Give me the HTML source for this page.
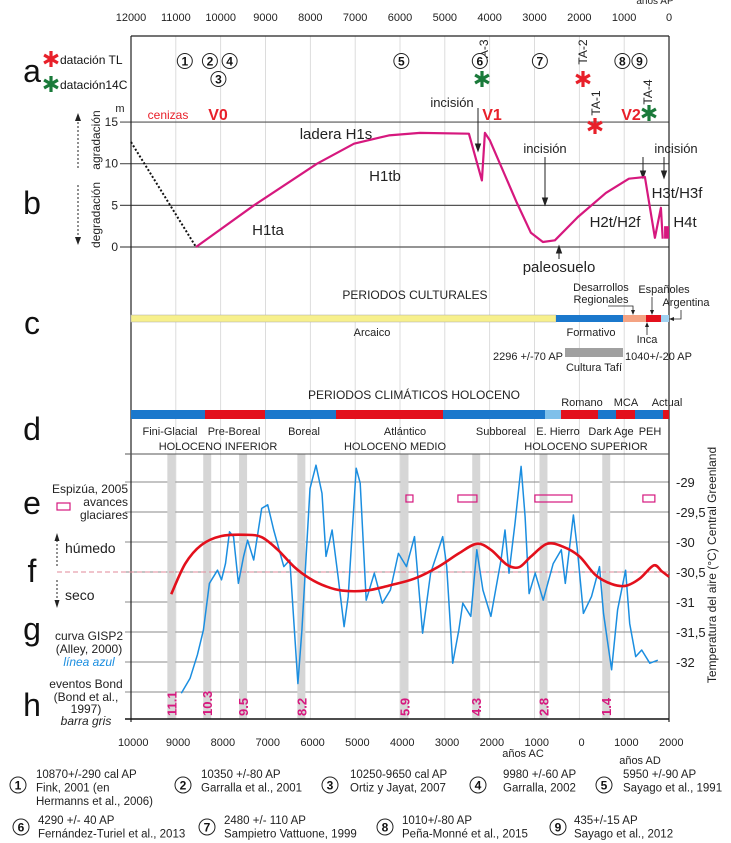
<!DOCTYPE html>
<html><head><meta charset="utf-8">
<style>
html,body{margin:0;padding:0;background:#fff;}
svg{display:block;font-family:"Liberation Sans Narrow","Liberation Sans",sans-serif;}
</style></head>
<body>
<svg id="fig" width="731" height="843" viewBox="0 0 731 843" xmlns="http://www.w3.org/2000/svg">
<g id="grid"></g>
<g id="static">
  <!-- frames -->
  <line x1="131" y1="36" x2="669" y2="36" stroke="#222" stroke-width="1.2"/>
  <line x1="131" y1="36" x2="131" y2="722" stroke="#222" stroke-width="1.2"/>
  <line x1="669" y1="36" x2="669" y2="722" stroke="#222" stroke-width="1.2"/>
  <line x1="125" y1="454" x2="669" y2="454" stroke="#555" stroke-width="1"/>
  <line x1="125" y1="719" x2="669" y2="719" stroke="#111" stroke-width="1.6"/>

  <!-- panel letters -->
  <g font-size="32" fill="#111" text-anchor="middle">
    <text x="32" y="82">a</text>
    <text x="32" y="214">b</text>
    <text x="32" y="334">c</text>
    <text x="32" y="440">d</text>
    <text x="32" y="514">e</text>
    <text x="32" y="582">f</text>
    <text x="32" y="640">g</text>
    <text x="32" y="716">h</text>
  </g>

  <!-- legend a -->
  <text x="60" y="64" font-size="12" fill="#111">datación TL</text>
  <text x="60" y="89" font-size="12" fill="#111">datación14C</text>

  <!-- section b left labels -->
  <text x="120" y="112" font-size="11" fill="#222" text-anchor="middle">m</text>
  <text x="100" y="140" font-size="12" fill="#222" text-anchor="middle" transform="rotate(-90 100 140)">agradación</text>
  <text x="100" y="215" font-size="12" fill="#222" text-anchor="middle" transform="rotate(-90 100 215)">degradación</text>
  <line x1="78" y1="168" x2="78" y2="118" stroke="#222" stroke-dasharray="2,2"/>
  <path d="M75,121 L78,113 L81,121Z" fill="#222"/>
  <line x1="78" y1="185" x2="78" y2="240" stroke="#222" stroke-dasharray="2,2"/>
  <path d="M75,237 L78,245 L81,237Z" fill="#222"/>

  <!-- section b annotations -->
  <g font-size="15" fill="#222">
    <text x="336" y="139" text-anchor="middle">ladera H1s</text>
    <text x="385" y="181" text-anchor="middle">H1tb</text>
    <text x="268" y="235" text-anchor="middle">H1ta</text>
    <text x="615" y="227" text-anchor="middle">H2t/H2f</text>
    <text x="677" y="198" text-anchor="middle">H3t/H3f</text>
    <text x="685" y="227" text-anchor="middle">H4t</text>
    <text x="559" y="272" text-anchor="middle">paleosuelo</text>
  </g>
  <g font-size="13" fill="#222" text-anchor="middle">
    <text x="452" y="107">incisión</text>
    <text x="545" y="153">incisión</text>
    <text x="676" y="153">incisión</text>
  </g>
  <g stroke="#222" stroke-width="1">
    <line x1="478" y1="108" x2="478" y2="148"/><path d="M475.5,144 L478,151 L480.5,144Z" fill="#222"/>
    <line x1="545" y1="157" x2="545" y2="202"/><path d="M542.5,198 L545,205 L547.5,198Z" fill="#222"/>
    <line x1="643" y1="157" x2="643" y2="175"/><path d="M640.5,171 L643,178 L645.5,171Z" fill="#222"/>
    <line x1="664" y1="157" x2="664" y2="175"/><path d="M661.5,171 L664,178 L666.5,171Z" fill="#222"/>
    <line x1="559" y1="259" x2="559" y2="252"/><path d="M556.5,253 L559,246 L561.5,253Z" fill="#222"/>
  </g>
  <text x="168" y="119" font-size="12" fill="#e8202a" text-anchor="middle">cenizas</text>
  <g font-size="16" font-weight="bold" fill="#e8202a" text-anchor="middle">
    <text x="218" y="120">V0</text>
    <text x="492" y="120">V1</text>
    <text x="631" y="120">V2</text>
  </g>
  <g font-size="12" fill="#222" text-anchor="middle">
    <text x="488" y="52" transform="rotate(-90 488 52)">TA-3</text>
    <text x="587" y="52" transform="rotate(-90 587 52)">TA-2</text>
    <text x="600" y="103" transform="rotate(-90 600 103)">TA-1</text>
    <text x="652" y="92" transform="rotate(-90 652 92)">TA-4</text>
  </g>

  <!-- section c -->
  <text x="415" y="299" font-size="12" fill="#222" text-anchor="middle">PERIODOS  CULTURALES</text>
  <g>
    <rect x="131" y="315" width="425" height="7" fill="#f7f08c" stroke="#aaa" stroke-width="0.5"/>
    <rect x="556" y="315" width="67" height="7" fill="#1b78cc"/>
    <rect x="623" y="315" width="23" height="7" fill="#f4a383"/>
    <rect x="646" y="315" width="15" height="7" fill="#e3101c"/>
    <rect x="661" y="315" width="8" height="7" fill="#9fd0f0"/>
  </g>
  <g font-size="11" fill="#222" text-anchor="middle">
    <text x="372" y="336">Arcaico</text>
    <text x="591" y="336">Formativo</text>
    <text x="647" y="343">Inca</text>
    <text x="601" y="291">Desarrollos</text>
    <text x="601" y="303">Regionales</text>
    <text x="664" y="293">Españoles</text>
    <text x="686" y="306">Argentina</text>
    <text x="563" y="360" text-anchor="end">2296 +/-70 AP</text>
    <text x="625" y="360" text-anchor="start">1040+/-20 AP</text>
    <text x="594" y="371">Cultura Tafí</text>
  </g>
  <rect x="565" y="348" width="58" height="9" fill="#a0a0a0"/>
  <g stroke="#222" stroke-width="0.8" fill="none">
    <path d="M608,306 L633,306 L633,312"/><path d="M647,335 L647,326"/><path d="M652,297 L652,311"/><path d="M681,310 L681,319 L673,319"/>
  </g>
  <g fill="#222">
    <path d="M631,310 L633,315 L635,310Z"/><path d="M645,327 L647,322 L649,327Z"/><path d="M650,310 L652,315 L654,310Z"/><path d="M674,317 L669,319 L674,321Z"/>
  </g>

  <!-- section d -->
  <text x="414" y="399" font-size="12" fill="#222" text-anchor="middle">PERIODOS  CLIMÁTICOS  HOLOCENO</text>
  <g font-size="11" fill="#222" text-anchor="middle">
    <text x="582" y="406">Romano</text>
    <text x="626" y="406">MCA</text>
    <text x="667" y="406">Actual</text>
  </g>
  <g>
    <rect x="131" y="410" width="74" height="9" fill="#1b78cc"/>
    <rect x="205" y="410" width="60" height="9" fill="#e3101c"/>
    <rect x="265" y="410" width="71" height="9" fill="#1b78cc"/>
    <rect x="336" y="410" width="107" height="9" fill="#e3101c"/>
    <rect x="443" y="410" width="102" height="9" fill="#1b78cc"/>
    <rect x="545" y="410" width="16" height="9" fill="#7fc0ea"/>
    <rect x="561" y="410" width="37" height="9" fill="#e3101c"/>
    <rect x="598" y="410" width="18" height="9" fill="#1b78cc"/>
    <rect x="616" y="410" width="19" height="9" fill="#e3101c"/>
    <rect x="635" y="410" width="28" height="9" fill="#1b78cc"/>
    <rect x="663" y="410" width="6" height="9" fill="#e3101c"/>
  </g>
  <g font-size="11" fill="#222" text-anchor="middle">
    <text x="170" y="435">Fini-Glacial</text>
    <text x="234" y="435">Pre-Boreal</text>
    <text x="304" y="435">Boreal</text>
    <text x="405" y="435">Atlántico</text>
    <text x="501" y="435">Subboreal</text>
    <text x="558" y="435">E. Hierro</text>
    <text x="611" y="435">Dark Age</text>
    <text x="650" y="435">PEH</text>
    <text x="218" y="450">HOLOCENO INFERIOR</text>
    <text x="395" y="450">HOLOCENO MEDIO</text>
    <text x="586" y="450">HOLOCENO SUPERIOR</text>
  </g>

  <!-- lower left legends -->
  <g font-size="12" fill="#222" text-anchor="end">
    <text x="128" y="493">Espizúa, 2005</text>
    <text x="128" y="506">avances</text>
    <text x="128" y="519">glaciares</text>
  </g>
  <rect x="57" y="503" width="13" height="7" fill="none" stroke="#d6187e" stroke-width="1.2"/>
  <text x="65" y="553" font-size="14" fill="#222">húmedo</text>
  <text x="65" y="600" font-size="14" fill="#222">seco</text>
  <line x1="57" y1="566" x2="57" y2="538" stroke="#222" stroke-dasharray="2,2"/>
  <path d="M54.5,541 L57,533 L59.5,541Z" fill="#222"/>
  <line x1="57" y1="580" x2="57" y2="603" stroke="#222" stroke-dasharray="2,2"/>
  <path d="M54.5,600 L57,608 L59.5,600Z" fill="#222"/>
  <g font-size="12" fill="#222" text-anchor="middle">
    <text x="89" y="640">curva GISP2</text>
    <text x="89" y="653">(Alley, 2000)</text>
    <text x="89" y="666" fill="#1b8ee0" font-style="italic">línea azul</text>
  </g>
  <g font-size="12" fill="#222" text-anchor="middle">
    <text x="86" y="688">eventos Bond</text>
    <text x="86" y="701">(Bond et al.,</text>
    <text x="86" y="713">1997)</text>
    <text x="86" y="725" font-style="italic">barra gris</text>
  </g>
  <text x="716" y="565" font-size="12" fill="#222" text-anchor="middle" transform="rotate(-90 716 565)">Temperatura del aire (°C) Central Greenland</text>
  <text x="655" y="4" font-size="10" fill="#222" text-anchor="middle">años AP</text>
  <text x="523" y="757" font-size="11" fill="#222" text-anchor="middle">años AC</text>
  <text x="640" y="764" font-size="11" fill="#222" text-anchor="middle">años  AD</text>
</g>
<g id="marks"></g>
<g id="refs"></g>
</svg>
<script>
// ---------- data ----------
const topTicks = [12000,11000,10000,9000,8000,7000,6000,5000,4000,3000,2000,1000,0];
const meterTicks = [15,10,5,0];
const tempTicks = [-29,-29.5,-30,-30.5,-31,-31.5,-32];
const tempTickLabels = ["-29","-29,5","-30","-30,5","-31","-31,5","-32"];
const bottomTickLabels = ["10000","9000","8000","7000","6000","5000","4000","3000","2000","1000","0","1000","2000"];
const bottomTickYears = [-10000,-9000,-8000,-7000,-6000,-5000,-4000,-3000,-2000,-1000,0,1000,2000];
// geomorphic profile (years BP, metres)
const profileYears = [10550,9257,7852,7027,6247,5555,4463,4173,4106,3995,3393,3080,2812,2545,2032,1408,895,538,315,181,140];
const profileMeters = [0,5,10,12.4,13.4,13.7,13.6,8,13.7,12.8,5.3,1.7,0.6,0.8,3.6,6.5,8.2,8.4,1.1,4.7,1.0];
// dating circles
const siteNumbers = [1,2,4,3,5,6,7,8,9];
const siteYears = [10800,10240,9800,10050,5970,4220,2880,1040,660];
const siteRow = [0,0,0,1,0,0,0,0,0];
// GISP2 temperature (years BP, °C)
const gispYears = [10879,10681,10520,10385,10251,10071,9982,9892,9802,9713,9605,9488,9399,9264,9085,8950,8816,8591,8457,8277,8188,8008,7874,7739,7650,7515,7380,7246,7156,6977,6887,6753,6573,6394,6214,6035,5856,5676,5497,5317,5048,4959,4824,4689,4600,4420,4286,4151,3972,3748,3658,3568,3434,3299,3209,3120,2985,2806,2582,2402,2312,2133,2043,1909,1729,1550,1460,1281,1146,967,877,743,608,429,250];
const gispTemps = [-32.52,-32.27,-31.88,-31.47,-30.69,-30.47,-30.63,-30.36,-29.83,-29.91,-30.69,-30.24,-29.97,-30.30,-29.44,-29.38,-29.80,-30.41,-30.30,-32.36,-31.47,-29.11,-28.72,-29.19,-30.24,-29.80,-30.58,-31.41,-30.91,-28.77,-29.02,-30.97,-30.52,-31.02,-30.80,-30.19,-30.41,-29.91,-31.52,-30.52,-29.91,-30.41,-32.02,-31.47,-31.02,-31.24,-30.13,-30.80,-31.24,-30.30,-29.80,-30.52,-29.69,-28.74,-29.58,-30.86,-30.52,-30.97,-30.36,-30.13,-30.69,-29.55,-30.13,-31.19,-30.91,-30.41,-31.19,-32.13,-31.13,-30.47,-31.36,-31.91,-31.80,-32.02,-31.97];
// humidity curve (years BP, plotted on temp scale)
const humYears = [11103,10789,10430,9982,9444,9085,8726,8367,8008,7650,7291,6753,6214,5676,5138,4689,4286,3972,3613,3344,3075,2716,2357,1998,1640,1281,967,653,339,160,0];
const humValues = [-30.87,-30.36,-30.05,-29.90,-29.88,-29.92,-30.13,-30.41,-30.61,-30.74,-30.81,-30.81,-30.72,-30.61,-30.41,-30.19,-30.03,-30.13,-30.38,-30.42,-30.24,-30.03,-30.08,-30.24,-30.55,-30.70,-30.73,-30.61,-30.39,-30.49,-30.58];
// Bond events (ka BP)
const bondEvents = [11.1,10.3,9.5,8.2,5.9,4.3,2.8,1.4];
const bondLabels = ["11.1","10.3","9.5","8.2","5.9","4.3","2.8","1.4"];
// glacier advances (years BP start/end)
const glacierStart = [5867,4708,2991,582];
const glacierEnd = [5711,4284,2166,315];

// ---------- axes ----------
const X0 = 131, X1 = 669;
function xBP(bp){ return X0 + (12000 - bp) / 12000 * (X1 - X0); }
function yM(m){ return 247 - m * 8.33; }
function yT(t){ return 482 + (-29 - t) * 60; }
const NS = "http://www.w3.org/2000/svg";
function mk(tag, attrs, parent){
  const e = document.createElementNS(NS, tag);
  for (const k in attrs) e.setAttribute(k, attrs[k]);
  parent.appendChild(e);
  return e;
}
const grid = document.getElementById('grid');
const marks = document.getElementById('marks');

// vertical grid
topTicks.forEach(t => {
  if (t === 12000 || t === 0) return;
  const l = mk('line', {x1:xBP(t), x2:xBP(t), y1:36, y2:719, stroke:'#d4d4d4', 'stroke-width':0.8}, grid);
  
  
});
// top axis labels
topTicks.forEach(t => {
  const tx = mk('text', {x:xBP(t), y:21, 'font-size':11, fill:'#222', 'text-anchor':'middle'}, grid);
  tx.textContent = String(t);
  
  
});
// metre lines
meterTicks.forEach(m => {
  const l = mk('line', {x1:120, x2:X1, y1:yM(m), y2:yM(m), stroke:'#555', 'stroke-width':1.2}, grid);
  
  
  const tx = mk('text', {x:118, y:yM(m)+4, 'font-size':12, fill:'#222', 'text-anchor':'end'}, grid);
  tx.textContent = String(m);
  
  
});
// temperature lines
tempTicks.forEach((t,i) => {
  const l = mk('line', {x1:125, x2:X1, y1:yT(t), y2:yT(t), stroke:'#888', 'stroke-width':0.9}, grid);
  
  
  const tx = mk('text', {x:676, y:yT(t)+5, 'font-size':13, fill:'#222'}, grid);
  tx.textContent = tempTickLabels[i];
  
  
});
{
  const l = mk('line', {x1:125, x2:X1, y1:yT(-32.5), y2:yT(-32.5), stroke:'#888', 'stroke-width':0.9}, grid);
  
  
}
// bottom axis labels
bottomTickYears.forEach((y,i) => {
  const bp = 1950 - y;
  const tx = mk('text', {x:xBP(bp), y:746, 'font-size':11, fill:'#222', 'text-anchor':'middle'}, grid);
  tx.textContent = bottomTickLabels[i];
  
  
});

// Bond bars
bondEvents.forEach((k,i) => {
  const x = xBP(k*1000);
  const r = mk('rect', {x:x-4, y:454, width:8, height:265, fill:'#d6d6d6'}, grid);
  
  
  const tx = mk('text', {x:x+5, y:716, 'font-size':13, 'font-weight':'bold', fill:'#d6187e', transform:`rotate(-90 ${x+5} 716)`}, marks);
  tx.textContent = bondLabels[i];
  
  
});

// dashed mean line
{
  const l = mk('line', {x1:57, x2:X1, y1:yT(-30.5), y2:yT(-30.5), stroke:'#e08a9a', 'stroke-width':0.9, 'stroke-dasharray':'5,3'}, marks);
  
  
}
// glacier boxes
glacierStart.forEach((s,i) => {
  const xa = xBP(s), xb = xBP(glacierEnd[i]);
  const r = mk('rect', {x:xa, y:495, width:xb-xa, height:7, fill:'none', stroke:'#d6187e', 'stroke-width':1.2}, marks);
  
  
});
// GISP2 line
{
  const pts = gispYears.map((y,i) => xBP(y).toFixed(1)+','+yT(gispTemps[i]).toFixed(1)).join(' ');
  const p = mk('polyline', {points:pts, fill:'none', stroke:'#1b8ee0', 'stroke-width':1.5, 'stroke-linejoin':'round'}, marks);
  
  
}
// humidity curve (smooth)
{
  const P = humYears.map((y,i) => [xBP(y), yT(humValues[i])]);
  let d = `M${P[0][0]},${P[0][1]}`;
  for (let i=0;i<P.length-1;i++){
    const p0 = P[i-1]||P[i], p1 = P[i], p2 = P[i+1], p3 = P[i+2]||P[i+1];
    const c1 = [p1[0]+(p2[0]-p0[0])/6, p1[1]+(p2[1]-p0[1])/6];
    const c2 = [p2[0]-(p3[0]-p1[0])/6, p2[1]-(p3[1]-p1[1])/6];
    d += ` C${c1[0].toFixed(1)},${c1[1].toFixed(1)} ${c2[0].toFixed(1)},${c2[1].toFixed(1)} ${p2[0].toFixed(1)},${p2[1].toFixed(1)}`;
  }
  const p = mk('path', {d:d, fill:'none', stroke:'#e3101c', 'stroke-width':2.6}, marks);
  
  
}
// profile
{
  const pts = profileYears.map((y,i) => xBP(y).toFixed(1)+','+yM(profileMeters[i]).toFixed(1)).join(' ');
  const p = mk('polyline', {points:pts, fill:'none', stroke:'#d6187e', 'stroke-width':2.2, 'stroke-linejoin':'round'}, marks);
  
  
  const r = mk('rect', {x:xBP(110), y:yM(2.5), width:xBP(0)-xBP(110), height:yM(1)-yM(2.5), fill:'#d6187e'}, marks);
  
  
  const dl = mk('line', {x1:xBP(12000), y1:yM(12.6), x2:xBP(10550), y2:yM(0), stroke:'#111', 'stroke-width':2, 'stroke-dasharray':'2,2'}, marks);
  
  
}
// site circles
function circleNum(cx, cy, n, parent, r){
  const c = mk('circle', {cx:cx, cy:cy, r:r||7.5, fill:'#fff', stroke:'#222', 'stroke-width':1}, parent);
  
  
  const t = mk('text', {x:cx, y:cy+4.5, 'font-size':12, 'font-weight':'bold', fill:'#111', 'text-anchor':'middle'}, parent);
  t.textContent = String(n);
  
  
}
siteNumbers.forEach((n,i) => circleNum(xBP(siteYears[i]), siteRow[i] ? 79 : 61, n, marks));
// stars
function star(cx, cy, color, name){
  const g = mk('g', {stroke:color, 'stroke-width':3.2, 'stroke-linecap':'butt'}, marks);
  
  
  for (let a=0;a<3;a++){
    const ang = Math.PI/2 + a*Math.PI/3, r = 8;
    mk('line', {x1:cx+r*Math.cos(ang), y1:cy-r*Math.sin(ang), x2:cx-r*Math.cos(ang), y2:cy+r*Math.sin(ang)}, g);
  }
}
star(51, 59, '#e8202a', 'legend-tl-star');
star(51, 84, '#1a7a3a', 'legend-14c-star');
star(482, 79, '#1a7a3a', 'ta3-star');
star(583, 79, '#e8202a', 'ta2-star');
star(595, 126, '#e8202a', 'ta1-star');
star(649, 113, '#1a7a3a', 'ta4-star');

// references
const refs = document.getElementById('refs');
const refData = [
  [1,18,785,36,["10870+/-290 cal AP","Fink, 2001 (en","Hermanns et al., 2006)"],778],
  [2,183,785,201,["10350 +/-80 AP","Garralla et al., 2001"],778],
  [3,330,785,350,["10250-9650 cal AP","Ortiz y Jayat, 2007"],778],
  [4,478,785,503,["9980 +/-60 AP","Garralla, 2002"],778],
  [5,604,785,623,["5950 +/-90 AP","Sayago et al., 1991"],778],
  [6,21,827,38,["4290 +/- 40 AP","Fernández-Turiel et al., 2013"],824],
  [7,207,827,224,["2480 +/- 110 AP","Sampietro Vattuone, 1999"],824],
  [8,385,827,402,["1010+/-80 AP","Peña-Monné et al., 2015"],824],
  [9,558,827,574,["435+/-15 AP","Sayago et al., 2012"],824]
];
refData.forEach(r => {
  circleNum(r[1], r[2], r[0], refs, 8);
  r[4].forEach((line,j) => {
    const t = mk('text', {x:r[3], y:r[5]+j*13.5, 'font-size':11.5, fill:'#222'}, refs);
    t.textContent = line;
    
    
  });
});
</script>
</body></html>
